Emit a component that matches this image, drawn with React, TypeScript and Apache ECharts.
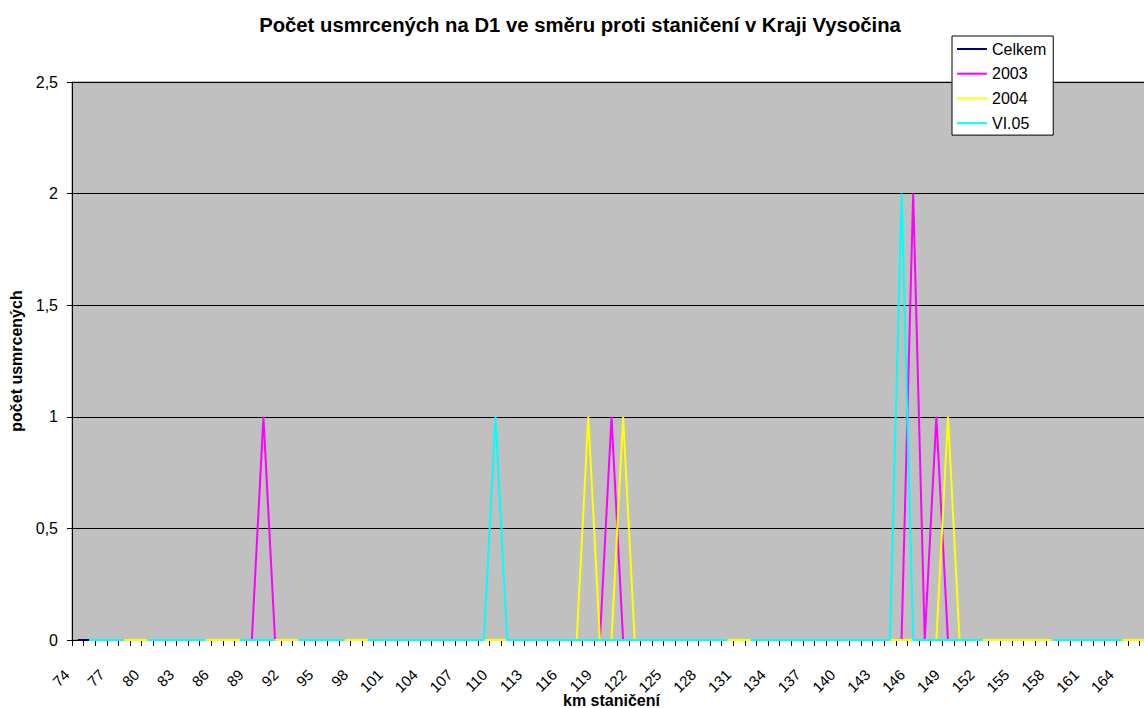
import React, { useEffect, useRef } from "react";
import * as echarts from "echarts";

const categories = [
  "74","75","76","77","78","79","80","81","82","83",
  "84","85","86","87","88","89","90","91","92","93",
  "94","95","96","97","98","99","100","101","102","103",
  "104","105","106","107","108","109","110","111","112","113",
  "114","115","116","117","118","119","120","121","122","123",
  "124","125","126","127","128","129","130","131","132","133",
  "134","135","136","137","138","139","140","141","142","143",
  "144","145","146","147","148","149","150","151","152","153",
  "154","155","156","157","158","159","160","161","162","163",
  "164","165","166",
];

const celkem = [
  0,0,0,0,0,0,0,0,0,0,
  0,0,0,0,0,0,0,0,0,0,
  0,0,0,0,0,0,0,0,0,0,
  0,0,0,0,0,0,0,0,0,0,
  0,0,0,0,0,0,0,0,0,0,
  0,0,0,0,0,0,0,0,0,0,
  0,0,0,0,0,0,0,0,0,0,
  0,0,0,0,0,0,0,0,0,0,
  0,0,0,0,0,0,0,0,0,0,
  0,0,0,
];

const y2003 = [
  null,0,0,0,0,0,0,0,0,0,
  0,0,0,0,0,0,1,0,0,0,
  0,0,0,0,0,0,0,0,0,0,
  0,0,0,0,0,0,0,0,0,0,
  0,0,0,0,0,0,1,0,0,0,
  0,0,0,0,0,0,0,0,0,0,
  0,0,0,0,0,0,0,0,0,0,
  0,0,2,0,1,0,0,0,0,0,
  0,0,0,0,0,0,0,0,0,0,
  0,0,0,
];

const y2004 = [
  null,0,0,0,0,0,0,0,0,0,
  0,0,0,0,0,0,0,0,0,0,
  0,0,0,0,0,0,0,0,0,0,
  0,0,0,0,0,0,0,0,0,0,
  0,0,0,0,1,0,0,1,0,0,
  0,0,0,0,0,0,0,0,0,0,
  0,0,0,0,0,0,0,0,0,0,
  0,0,0,0,0,1,0,0,0,0,
  0,0,0,0,0,0,0,0,0,0,
  0,0,0,
];

const vi05 = [
  null,0,0,0,0,null,0,0,0,0,
  0,0,null,null,0,0,0,0,null,0,
  0,0,0,0,null,0,0,0,0,0,
  0,0,0,0,0,0,1,0,0,0,
  0,0,0,0,0,0,0,0,0,0,
  0,0,0,0,0,0,0,null,0,0,
  0,0,0,0,0,0,0,0,0,0,
  0,2,0,0,0,0,0,0,0,null,
  null,null,null,null,0,0,0,0,0,0,
  0,null,null,
];

const seriesNames = ["Celkem", "2003", "2004", "VI.05"];
const seriesColors = ["#000080", "#ff00ff", "#ffff00", "#00ffff"];
const yTicks = [0, 0.5, 1, 1.5, 2, 2.5];

const FONT = "Liberation Sans, Arial, sans-serif";

export default function App() {
  const ref = useRef<HTMLDivElement>(null);
  useEffect(() => {
    if (!ref.current) return;
    const chart = echarts.init(ref.current, null, { renderer: "svg" });
    const data = [celkem, y2003, y2004, vi05];
    chart.setOption({
      animation: false,
      backgroundColor: "#ffffff",
      textStyle: { fontFamily: FONT },
      title: {
        text: "Počet usmrcených na D1 ve směru proti staničení v Kraji Vysočina",
        left: "center",
        top: 10,
        textStyle: { fontFamily: FONT, fontSize: 20.3, fontWeight: "bold", color: "#000" },
      },
      legend: {
        orient: "vertical",
        left: 952,
        top: 36,
        padding: [5, 7, 4, 5],
        itemGap: 8.7,
        itemWidth: 30,
        itemHeight: 2,
        icon: "rect",
        selectedMode: false,
        backgroundColor: "#ffffff",
        borderColor: "#000000",
        borderWidth: 1,
        textStyle: { fontFamily: FONT, fontSize: 16, color: "#000", lineHeight: 16 },
        data: seriesNames,
      },
      grid: {
        left: 72,
        top: 82,
        right: 9,
        bottom: 68,
        show: true,
        backgroundColor: "#c0c0c0",
        borderColor: "#808080",
        borderWidth: 1,
        outerBoundsMode: "none",
        containLabel: false,
      },
      xAxis: {
        type: "category",
        data: categories,
        boundaryGap: true,
        name: "km staničení",
        nameLocation: "middle",
        nameGap: 52,
        nameMoveOverlap: false,
        nameTextStyle: { fontFamily: FONT, fontSize: 16, fontWeight: "bold", color: "#000", verticalAlign: "top" },
        axisLine: { show: true, lineStyle: { color: "#000", width: 1 } },
        axisTick: { show: true, interval: 0, length: 6, lineStyle: { color: "#000" } },
        axisLabel: {
          interval: 2,
          rotate: 45,
          margin: 21,
          fontFamily: FONT,
          fontSize: 15,
          color: "#000",
          formatter: (v: string) => v + "\u00a0\u00a0\u00a0\u2009",
        },
        splitLine: { show: false },
      },
      yAxis: {
        type: "value",
        min: 0,
        max: 2.5,
        interval: 0.5,
        name: "počet usmrcených",
        nameLocation: "middle",
        nameRotate: 90,
        nameGap: 48,
        nameMoveOverlap: false,
        nameTextStyle: { fontFamily: FONT, fontSize: 16, fontWeight: "bold", color: "#000" },
        axisLine: { show: true, lineStyle: { color: "#000", width: 1 } },
        axisTick: { show: true, length: 5, lineStyle: { color: "#000" } },
        axisLabel: {
          margin: 14,
          fontFamily: FONT,
          fontSize: 16,
          color: "#000",
          formatter: (v: number) => (yTicks.includes(v) ? String(v).replace(".", ",") : ""),
        },
        splitLine: { show: true, lineStyle: { color: "#000", width: 1 } },
      },
      series: seriesNames.map((name, i) => ({
        name,
        type: "line",
        data: data[i],
        symbol: "none",
        connectNulls: false,
        color: seriesColors[i],
        lineStyle: { color: seriesColors[i], width: 2 },
      })),
    });
    return () => chart.dispose();
  }, []);
  return (
    <div style={{ position: "fixed", left: 0, top: 0, width: 1144, height: 708, overflow: "hidden", background: "#fff" }}>
      <div ref={ref} style={{ width: 1160, height: 708 }} />
    </div>
  );
}
